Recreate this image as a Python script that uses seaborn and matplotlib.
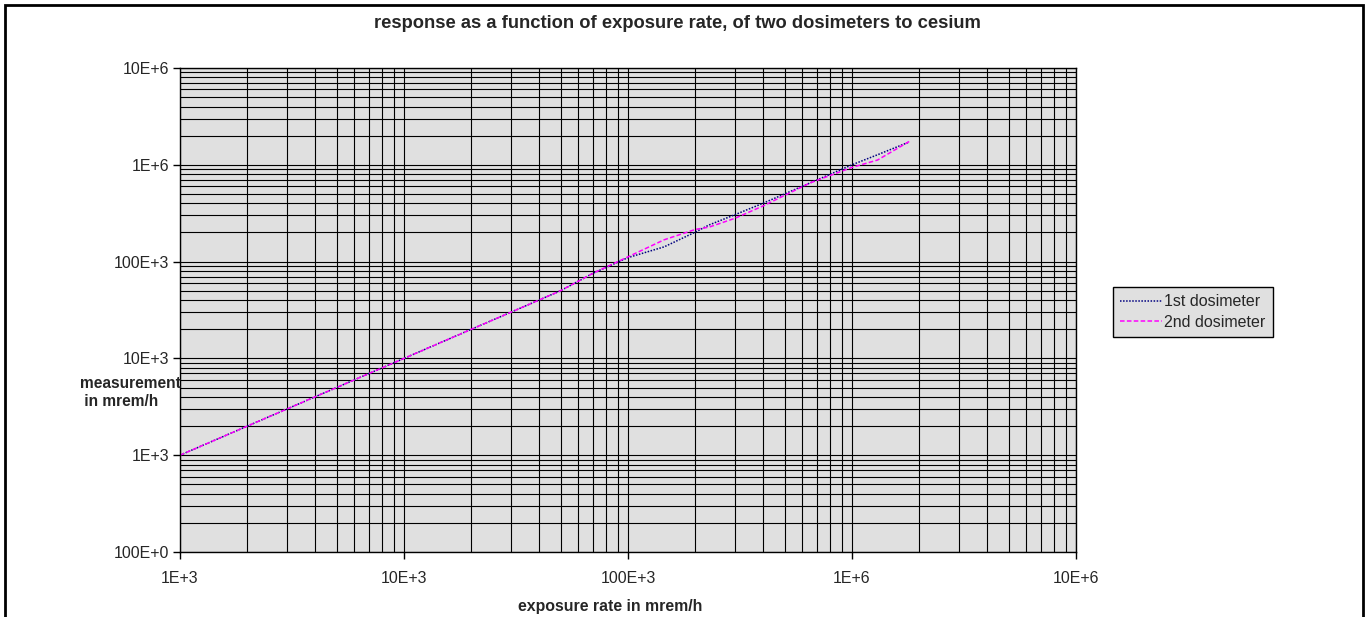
import matplotlib
matplotlib.use("Agg")
import matplotlib.pyplot as plt
import matplotlib.ticker as mticker
from matplotlib.patches import Rectangle
import pandas as pd
import seaborn as sns

# exposure rate (mrem/h) and readings of the two dosimeters
exposure = [1e3, 2e3, 5e3, 1e4, 2e4, 5e4, 7e4, 1e5, 1.45e5, 2e5, 2.3e5,
            3e5, 4e5, 6.5e5, 1e6, 1.3e6, 1.8e6]
dosimeter_1 = [1e3, 2e3, 5e3, 1e4, 2e4, 5e4, 7.6e4, 1.1e5, 1.42e5, 2.02e5, 2.39e5,
               3.05e5, 4.0e5, 6.5e5, 1.0e6, 1.27e6, 1.72e6]
dosimeter_2 = [1e3, 2e3, 5e3, 1e4, 2e4, 5e4, 7.6e4, 1.12e5, 1.68e5, 2.15e5, 2.27e5,
               2.8e5, 3.75e5, 6.5e5, 9.4e5, 1.12e6, 1.74e6]

x_ticks = [1e3, 1e4, 1e5, 1e6, 1e7]
x_tick_labels = ["1E+3", "10E+3", "100E+3", "1E+6", "10E+6"]
y_ticks = [1e2, 1e3, 1e4, 1e5, 1e6, 1e7]
y_tick_labels = ["100E+0", "1E+3", "10E+3", "100E+3", "1E+6", "10E+6"]

df = pd.DataFrame({"exposure": exposure, "d1": dosimeter_1, "d2": dosimeter_2})

sns.set_style("white")
plt.rcParams["font.family"] = ["Liberation Sans", "DejaVu Sans"]

fig = plt.figure(figsize=(13.66, 6.17), dpi=100)
W, H = 1366, 617
ax = fig.add_axes([180 / W, 1 - 552 / H, (1076 - 180) / W, (552 - 68) / H])
ax.set_facecolor("#E0E0E0")

sns.lineplot(data=df, x="exposure", y="d1", ax=ax, color="#000080",
             linestyle=(0, (1, 1)), linewidth=1.1, label="1st dosimeter")
sns.lineplot(data=df, x="exposure", y="d2", ax=ax, color="#FF00FF",
             linestyle=(0, (3, 1.5)), linewidth=1.1, label="2nd dosimeter")

ax.set_xscale("log")
ax.set_yscale("log")
ax.set_xlim(1e3, 1e7)
ax.set_ylim(1e2, 1e7)

ax.set_xticks(x_ticks)
ax.set_xticklabels(x_tick_labels)
ax.set_yticks(y_ticks)
ax.set_yticklabels(y_tick_labels)
ax.xaxis.set_minor_locator(mticker.LogLocator(base=10, subs=range(2, 10)))
ax.yaxis.set_minor_locator(mticker.LogLocator(base=10, subs=range(2, 10)))
ax.xaxis.set_minor_formatter(mticker.NullFormatter())
ax.yaxis.set_minor_formatter(mticker.NullFormatter())

ax.grid(True, which="both", color="black", linewidth=0.8)
ax.set_axisbelow(True)
ax.tick_params(which="major", direction="out", length=5, width=1, color="black",
               labelsize=11.5, bottom=True, left=True)
ax.tick_params(axis="y", pad=3)
ax.tick_params(axis="x", pad=9)
ax.tick_params(which="minor", length=0)
for s in ax.spines.values():
    s.set_color("black")
    s.set_linewidth(1)

ax.set_xlabel("")
ax.set_ylabel("")

fig.text(677 / W, 1 - 23 / H, "response as a function of exposure rate, of two dosimeters to cesium",
         ha="center", va="center", fontsize=13.2, fontweight="bold")
fig.text(610 / W, 1 - 606 / H, "exposure rate in mrem/h",
         ha="center", va="center", fontsize=11.4, fontweight="bold")
fig.text(80 / W, 1 - 392 / H, "measurement\n in mrem/h",
         ha="left", va="center", fontsize=11.2, fontweight="bold", linespacing=1.25)

leg = ax.legend(loc="center left", bbox_to_anchor=(1113 / W, 1 - 312 / H),
                bbox_transform=fig.transFigure, frameon=True, fancybox=False,
                fontsize=11.5, handlelength=2.6, handletextpad=0.15,
                borderpad=0.45, labelspacing=0.35, borderaxespad=0)
leg.get_frame().set_facecolor("#E0E0E0")
leg.get_frame().set_edgecolor("black")
leg.get_frame().set_linewidth(1)
leg.get_frame().set_alpha(1)

# outer chart border (bottom edge falls outside the picture)
fig.patches.append(Rectangle((5 / W, -0.05), (1363 - 5) / W, 1 - 5 / H + 0.05,
                             transform=fig.transFigure, fill=False,
                             edgecolor="black", linewidth=2))

fig.savefig("out.png", dpi=100, facecolor="white")
